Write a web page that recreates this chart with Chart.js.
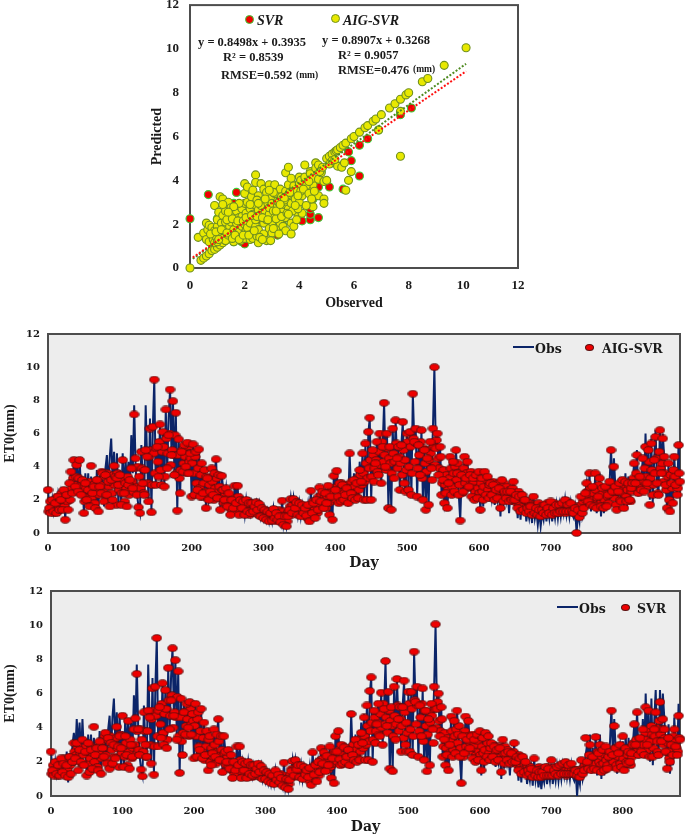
<!DOCTYPE html>
<html>
<head>
<meta charset="utf-8">
<script src="https://cdn.jsdelivr.net/npm/chart.js@4"></script>
<style>
  html, body { margin: 0; padding: 0; background: #fff; }
  body { position: relative; width: 685px; height: 834px; overflow: hidden; filter: blur(0.35px); }
  canvas { position: absolute; }
  .n { position: absolute; white-space: nowrap; line-height: 1; font: bold 12.5px "Liberation Serif", serif; color: #1a1a1a; }
  .lg { font: bold 12.5px "DejaVu Serif", serif; }
  .dot { position: absolute; border-radius: 50%; box-sizing: border-box; }
  .ln { position: absolute; height: 2px; background: #0b2468; }
</style>
</head>
<body>
<canvas id="scatterChart" width="400" height="312" style="left:140px;top:0"></canvas>
<canvas id="aigChart" width="685" height="252" style="left:0;top:320px"></canvas>
<canvas id="svrChart" width="685" height="256" style="left:0;top:580px"></canvas>

<!-- scatter notes -->
<div class="dot" style="left:245px;top:15px;width:9px;height:9px;background:#f00000;border:1px solid #39d039"></div>
<div class="n" style="left:257px;top:13px;font-size:14px;font-style:italic">SVR</div>
<div class="dot" style="left:331px;top:14px;width:9px;height:9px;background:#e8e800;border:1px solid #6f8f20"></div>
<div class="n" style="left:343px;top:13px;font-size:14px;font-style:italic">AIG-SVR</div>
<div class="n" style="left:198px;top:35px">y = 0.8498x + 0.3935</div>
<div class="n" style="left:223px;top:50px">R² = 0.8539</div>
<div class="n" style="left:221px;top:68px">RMSE=0.592</div>
<div class="n" style="left:296px;top:70px;font-size:9.5px">(mm)</div>
<div class="n" style="left:322px;top:33px">y = 0.8907x + 0.3268</div>
<div class="n" style="left:338px;top:48px">R² = 0.9057</div>
<div class="n" style="left:338px;top:63px">RMSE=0.476</div>
<div class="n" style="left:413px;top:64px;font-size:9.5px">(mm)</div>

<!-- time series legends -->
<div class="ln" style="left:513px;top:346px;width:21px"></div>
<div class="n lg" style="left:535px;top:341px">Obs</div>
<div class="dot" style="left:585px;top:344px;width:9px;height:7px;background:#ee0000;border:1px solid #5a1010"></div>
<div class="n lg" style="left:602px;top:341px">AIG-SVR</div>
<div class="ln" style="left:557px;top:606px;width:21px"></div>
<div class="n lg" style="left:579px;top:601px">Obs</div>
<div class="dot" style="left:621px;top:604px;width:9px;height:7px;background:#ee0000;border:1px solid #5a1010"></div>
<div class="n lg" style="left:637px;top:601px">SVR</div>

<script>
//************************************   DATA    ******************************************
// observed series, one value read every second day (day 0 to day 880)
const obsValues = [
  2.6,1.4,1.2,2.0,1.3,1.9,1.1,2.2,1.5,2.3,1.4,2.6,0.8,2.5,1.4,3.0,3.7,2.4,4.5,2.8,4.3,2.2,4.5,2.5,3.2,
  1.2,3.6,2.0,3.6,1.6,3.4,2.4,2.9,1.3,3.8,1.3,3.6,2.4,3.3,1.6,3.9,4.7,2.6,4.6,5.7,3.2,4.9,2.2,4.8,1.7,
  3.8,1.7,4.8,2.4,4.4,3.0,4.3,2.7,5.9,3.6,7.7,4.0,2.3,1.6,1.2,5.3,3.0,2.2,7.7,4.5,1.9,6.9,1.25,6.4,9.25,
  2.9,5.5,3.4,6.6,2.9,6.2,2.8,7.5,3.9,7.0,8.65,4.7,8.0,3.5,7.3,1.35,5.7,2.4,5.4,3.7,5.3,4.0,5.5,3.6,5.4,
  2.2,5.3,2.3,4.9,2.6,5.1,2.2,4.2,2.4,3.8,1.5,3.3,2.0,2.5,3.9,2.3,3.6,4.5,2.1,3.5,1.4,3.5,2.6,2.0,2.7,
  1.6,2.4,1.1,2.0,1.5,2.9,1.8,2.9,1.1,2.0,1.5,1.9,1.1,2.0,1.3,1.8,1.2,1.8,1.3,1.6,1.9,1.4,1.8,1.0,1.5,
  0.9,1.4,0.8,1.3,0.7,1.2,0.7,1.5,0.9,1.2,0.8,1.0,0.6,2.0,0.5,1.0,0.4,1.0,1.4,2.1,1.2,2.1,1.5,1.9,1.1,
  1.8,1.0,1.7,1.2,1.5,1.0,1.7,0.7,2.6,1.2,1.8,0.9,2.0,1.4,2.8,1.9,2.5,1.5,2.4,1.8,2.9,1.1,2.2,0.8,3.5,
  2.6,3.8,2.2,3.0,1.9,2.9,2.0,2.3,2.7,1.6,4.8,2.4,2.1,3.6,1.9,3.8,2.1,4.3,3.1,4.8,2.0,5.4,2.0,6.0,6.95,
  2.0,5.0,3.1,4.2,5.5,3.5,6.0,3.0,5.2,7.85,4.0,6.0,1.5,5.2,1.4,6.3,3.3,6.8,4.5,5.2,2.6,5.3,6.7,3.0,2.5,
  6.0,2.6,6.1,2.3,8.4,5.5,6.3,2.2,5.3,3.5,6.2,2.0,5.0,1.4,4.5,1.7,5.5,3.9,6.3,10.0,5.1,6.0,3.5,5.2,2.3,
  3.2,1.8,2.4,1.5,3.0,4.6,2.3,4.3,2.5,5.0,3.6,2.3,0.75,3.5,2.5,4.6,3.3,4.4,2.8,3.5,2.2,3.3,1.9,3.5,2.1,
  3.7,1.2,3.3,1.6,3.7,2.3,3.4,1.9,3.0,2.1,2.9,1.7,2.6,2.0,2.7,1.0,3.2,1.6,2.5,1.9,2.5,1.2,2.5,1.7,3.1,
  1.5,2.3,0.9,2.2,0.8,2.3,1.1,2.0,0.7,1.4,0.9,1.6,0.6,2.2,0.9,1.4,0.5,1.3,0.4,1.2,0.8,1.7,0.7,1.5,0.9,
  1.9,0.7,1.5,0.9,1.7,0.9,1.7,1.0,1.8,1.2,2.0,1.1,1.7,1.0,1.8,1.1,0.9,1.5,0.0,1.2,0.7,2.2,1.0,1.4,2.4,
  3.0,1.7,3.6,1.3,2.8,1.5,3.6,1.2,2.2,3.6,1.0,2.7,1.2,2.8,1.4,2.3,3.1,5.1,2.5,4.5,2.8,1.3,2.5,3.0,1.8,
  3.2,1.5,3.6,1.4,3.4,2.0,2.7,3.0,4.2,3.0,5.0,2.2,3.4,2.6,4.5,2.5,6.0,3.0,5.0,2.0,5.7,1.8,4.4,6.2,3.0,
  2.2,6.2,3.6,6.0,4.6,2.9,1.5,4.2,1.3,3.0,1.8,4.6,2.9,2.3,5.4,3.1
];
// predictions on even days
const aigEven = [
  2.6,1.5,1.2,2.0,1.3,1.8,1.2,2.2,1.4,2.0,1.4,2.6,0.8,2.3,1.4,3.0,3.7,2.4,4.4,2.8,4.1,2.5,4.4,2.3,3.2,
  1.2,3.0,2.0,2.6,1.6,4.05,2.4,2.8,1.5,3.2,1.3,2.8,2.4,3.6,1.9,3.5,2.3,3.1,1.6,3.2,2.0,4.05,3.4,3.3,2.9,
  3.5,1.7,4.4,2.4,3.0,1.6,2.9,3.2,3.9,2.7,7.15,4.5,2.3,1.55,1.2,4.9,3.0,2.3,5.0,4.6,1.9,6.3,1.25,6.4,9.25,
  2.9,5.2,3.4,6.55,2.9,6.1,2.8,7.45,3.9,5.9,8.65,4.7,7.95,3.5,7.25,1.35,5.65,2.4,4.9,3.7,5.3,4.0,5.45,3.6,4.8,
  2.2,5.35,2.3,4.9,2.6,5.05,2.2,4.2,2.4,3.8,1.5,3.3,2.0,2.5,3.9,2.3,3.6,4.45,2.1,3.5,1.4,3.45,2.6,2.0,2.7,
  1.6,2.4,1.1,2.0,1.5,2.85,1.8,2.85,1.1,2.0,1.5,1.9,1.1,2.0,1.3,1.8,1.2,1.8,1.3,1.6,1.85,1.4,1.75,1.0,1.5,
  0.9,1.4,0.8,1.3,0.7,1.2,0.75,1.45,0.9,1.2,0.8,1.0,0.65,1.95,0.5,1.0,0.4,1.0,1.4,2.05,1.2,2.05,1.5,1.85,1.1,
  1.8,1.0,1.7,1.2,1.5,1.05,1.7,0.7,2.55,1.2,1.8,0.9,2.0,1.4,2.75,1.9,2.5,1.5,2.4,1.8,2.85,1.1,2.2,0.8,3.45,
  2.6,3.75,2.2,3.0,1.9,2.9,2.0,2.3,2.7,1.8,4.8,2.4,2.1,3.2,2.0,3.0,2.1,3.8,3.1,4.8,2.0,5.4,2.0,6.1,6.95,
  2.0,5.0,3.1,4.2,5.5,3.5,6.0,3.0,5.2,7.85,4.0,6.0,1.5,5.2,1.4,6.3,3.3,6.8,4.5,5.2,2.6,5.3,6.7,3.0,2.5,
  6.0,2.6,6.1,2.3,8.4,5.5,6.3,2.2,5.3,3.5,6.2,2.0,5.0,1.4,4.5,1.7,5.5,3.9,6.3,10.0,5.1,6.0,3.5,5.2,2.3,
  3.2,1.8,2.4,1.5,3.0,4.6,2.3,4.3,2.5,5.0,3.6,2.3,0.75,3.5,2.5,4.6,3.3,4.3,2.8,3.5,2.2,3.3,2.0,3.5,2.1,
  3.7,1.4,3.3,2.0,3.7,2.3,3.4,2.1,3.0,2.3,2.9,2.0,2.6,2.1,2.7,1.5,3.2,1.9,2.5,2.1,2.5,1.9,2.5,2.0,3.1,
  2.0,2.3,1.5,2.2,1.3,2.3,1.4,2.0,1.2,1.5,1.3,1.6,1.1,2.2,1.2,1.5,1.1,1.4,1.0,1.4,1.2,1.7,1.1,1.5,1.2,
  1.9,1.1,1.5,1.2,1.7,1.2,1.7,1.3,1.8,1.3,2.0,1.3,1.7,1.3,1.8,1.3,1.2,1.5,0.0,1.4,0.95,2.2,1.2,1.5,2.4,
  3.0,1.9,3.6,1.7,2.8,1.6,3.6,1.5,2.2,3.3,1.6,2.7,1.5,2.8,1.6,2.3,3.1,5.0,2.5,4.0,2.8,1.4,2.5,3.0,1.9,
  3.2,1.5,3.1,1.9,3.0,2.0,2.7,3.0,4.2,3.0,4.7,2.4,3.4,2.6,4.5,2.5,5.2,3.0,5.0,1.7,5.4,2.3,4.4,5.8,3.0,
  2.3,6.2,3.6,5.7,4.6,2.9,1.5,4.2,1.3,3.0,1.8,4.6,2.9,2.3,5.3,3.1
];
const svrEven = [
  2.6,1.5,1.2,2.0,1.3,1.8,1.2,2.2,1.4,1.9,1.2,1.8,1.1,2.3,1.3,2.0,3.1,2.2,3.1,1.5,2.7,2.0,3.3,1.8,2.6,
  1.2,3.1,1.4,2.7,1.6,4.05,2.4,2.8,1.5,3.2,1.3,2.8,2.3,3.7,1.9,3.4,1.6,3.1,1.9,3.0,2.2,4.05,2.9,3.5,2.8,
  4.7,1.7,3.5,2.4,4.4,1.6,3.0,2.3,3.9,4.55,7.15,3.9,2.4,1.55,1.15,4.9,3.0,2.3,5.0,4.6,1.9,6.3,1.25,6.4,9.25,
  2.9,5.2,3.4,6.6,3.0,6.2,2.8,7.5,3.9,5.6,8.65,4.7,7.95,3.3,7.3,1.35,5.7,2.4,4.9,3.6,5.4,4.0,5.5,3.6,4.8,
  2.2,5.4,2.3,4.9,2.7,5.1,2.2,4.3,2.4,3.8,1.5,3.5,1.8,2.5,3.9,2.3,3.6,4.5,2.1,3.5,1.4,3.5,2.6,2.0,2.7,
  1.6,2.4,1.05,2.0,1.5,2.9,1.8,2.9,1.05,2.0,1.5,1.9,1.05,2.0,1.3,1.8,1.2,1.8,1.3,1.6,1.9,1.4,1.75,1.0,1.5,
  1.0,1.4,0.85,1.3,0.75,1.2,0.7,1.5,0.95,1.25,0.8,1.05,0.6,1.95,0.5,1.0,0.4,0.95,1.45,2.05,1.2,2.1,1.55,1.8,1.1,
  1.8,1.0,1.7,1.25,1.5,1.1,1.65,0.65,2.55,1.25,1.8,0.85,2.0,1.4,2.8,1.9,2.55,1.45,2.35,1.8,2.9,1.05,2.2,0.75,3.5,
  2.6,3.8,2.15,3.0,1.9,2.85,2.0,2.3,2.7,1.8,4.8,2.4,2.1,3.3,2.0,3.0,2.1,3.7,3.1,4.6,2.1,5.3,2.1,6.15,6.95,
  2.0,5.0,3.1,4.2,5.4,3.5,6.05,3.0,5.1,7.9,4.1,6.1,1.6,5.2,1.45,6.4,3.3,6.85,4.5,5.2,2.6,5.2,6.75,3.0,2.6,
  6.1,2.6,6.1,2.4,8.45,5.5,6.4,2.3,5.3,3.5,6.3,2.1,5.0,1.45,4.5,1.8,5.4,3.9,6.4,10.05,5.1,6.0,3.5,5.2,2.3,
  3.3,1.8,2.4,1.5,3.0,4.65,2.3,4.4,2.5,5.0,3.6,2.3,0.75,3.5,2.5,4.65,3.3,4.4,2.8,3.5,2.2,3.3,2.0,3.6,2.1,
  3.8,1.5,3.4,2.0,3.7,2.3,3.5,2.1,3.1,2.3,2.9,2.0,2.7,2.1,2.8,1.4,3.3,1.9,2.5,2.1,2.6,1.9,2.5,2.0,3.1,
  2.0,2.3,1.5,2.2,1.3,2.3,1.4,2.0,1.2,1.5,1.3,1.6,1.1,2.2,1.2,1.5,1.1,1.4,1.1,1.4,1.2,1.7,1.2,1.6,1.2,
  2.1,1.2,1.5,1.3,1.7,1.2,1.8,1.3,1.9,1.3,2.0,1.3,1.8,1.3,1.9,1.3,1.3,1.5,1.2,1.4,1.1,2.1,1.3,1.5,3.4,
  2.0,1.6,3.0,1.5,2.3,1.6,3.45,1.5,2.5,3.0,1.4,2.7,1.5,2.9,1.6,2.3,2.6,5.0,2.4,4.1,2.8,1.6,2.5,3.0,1.7,
  3.5,1.5,2.8,1.9,2.6,2.0,2.5,3.0,4.2,3.0,4.9,2.4,3.4,2.6,3.9,2.4,5.2,3.0,5.0,2.3,4.1,2.3,3.9,4.9,3.2,
  2.4,5.5,3.2,4.5,3.9,2.6,1.6,3.4,2.0,3.0,2.4,3.9,2.9,2.4,4.7,3.3
];
// predictions on odd days
const aigOdd = [
  1.3,1.9,1.4,1.6,1.2,1.9,2.2,1.5,1.8,2.4,1.9,1.6,2.2,1.9,2.5,2.0,2.7,3.3,2.9,3.4,2.6,3.3,2.5,2.9,3.1,
  1.9,2.7,2.2,3.1,2.5,2.1,2.9,1.8,2.6,3.2,2.3,2.9,3.7,2.5,3.4,2.0,3.6,2.8,3.3,2.4,3.5,2.9,1.7,3.6,2.6,
  3.0,2.4,3.2,1.9,2.7,3.4,2.3,2.9,3.1,2.5,3.9,2.8,4.0,3.4,2.7,3.9,2.4,3.8,4.9,3.0,4.6,5.0,2.9,4.8,3.6,
  5.1,4.3,5.5,3.8,4.9,5.2,3.4,5.7,4.8,6.0,4.1,5.0,4.7,5.9,3.6,4.7,3.3,3.8,5.0,4.2,4.6,3.6,5.2,4.3,4.5,
  4.2,3.6,4.6,3.0,3.9,2.7,3.5,2.2,3.0,2.5,3.4,2.1,2.9,2.4,3.1,2.0,2.7,3.3,2.5,2.8,2.1,2.6,1.8,2.4,1.7,
  2.1,1.5,1.9,1.3,2.1,1.6,1.7,2.2,1.4,1.8,1.2,1.7,1.5,1.3,1.9,1.1,1.7,1.4,1.2,1.5,1.8,1.1,1.6,1.3,1.4,
  1.1,1.3,0.9,1.2,1.0,0.8,1.3,0.9,1.1,0.7,1.4,0.9,1.0,1.3,0.8,1.1,0.7,1.3,1.6,1.1,1.7,1.3,1.9,1.4,1.6,
  1.3,1.5,1.1,1.6,1.3,0.9,1.6,1.2,1.5,1.9,1.4,1.7,1.2,2.2,1.6,2.3,1.8,2.1,1.5,2.2,1.8,2.5,1.9,2.7,2.1,
  2.0,2.8,1.8,2.5,3.0,2.1,2.4,1.9,2.9,2.2,2.6,3.1,2.4,2.8,2.2,3.3,2.6,3.5,2.9,3.6,3.1,4.2,3.3,3.9,4.4,
  3.4,4.7,3.9,4.4,3.7,4.9,4.1,5.5,4.3,4.7,3.8,5.1,4.5,4.2,3.6,4.8,4.3,5.4,3.9,4.6,4.2,3.5,5.0,4.4,3.8,
  5.5,4.0,5.2,3.6,5.7,4.3,5.4,3.9,4.7,5.5,3.3,5.1,4.2,3.7,5.0,4.4,4.8,3.2,5.2,4.1,5.6,4.5,3.9,4.6,3.0,
  3.8,2.9,3.5,2.6,3.3,3.9,2.8,3.6,4.0,3.2,4.2,2.9,3.7,2.4,3.9,3.0,3.6,2.7,3.2,3.7,2.9,3.1,2.5,3.3,2.7,
  2.4,3.0,2.5,2.8,2.2,3.2,2.6,2.9,2.3,3.1,2.4,2.7,2.2,3.0,2.4,2.1,2.6,3.0,2.3,2.8,2.2,2.6,2.0,2.7,2.1,
  2.4,1.8,2.5,1.7,2.3,1.6,2.0,1.5,1.9,1.3,1.8,1.4,1.7,1.2,1.6,1.4,1.8,1.2,1.6,1.3,1.5,1.2,1.8,1.4,1.3,
  1.5,1.2,1.8,1.4,1.3,1.6,1.2,1.5,1.4,1.7,1.2,1.9,1.5,1.4,1.7,1.2,1.5,1.3,1.6,1.1,1.4,1.7,1.9,2.2,2.0,
  2.5,2.2,2.7,2.0,2.4,1.8,2.6,2.1,2.9,2.3,1.9,2.4,2.0,2.6,2.2,1.8,2.7,2.3,2.9,2.1,1.7,2.5,2.8,2.0,2.6,
  2.4,2.9,2.2,2.6,2.9,1.9,2.5,3.3,2.7,3.6,2.9,3.0,3.4,2.8,3.1,3.9,3.4,2.8,4.3,3.3,3.8,2.9,3.6,4.5,2.4,
  4.9,3.9,4.2,3.1,3.6,2.6,3.4,2.0,3.5,2.7,3.8,3.4,2.9,2.7,3.6
];
const svrOdd = [
  1.3,1.8,1.4,1.5,1.2,1.8,2.0,1.4,1.7,2.2,1.8,1.6,2.1,1.8,2.3,2.0,2.6,2.4,2.9,2.1,2.5,1.9,2.4,2.7,2.9,
  1.9,2.6,2.2,2.9,2.5,2.0,2.8,1.7,2.5,3.1,2.2,2.8,3.5,2.4,3.3,2.0,3.5,2.7,3.2,2.3,3.4,2.8,1.7,3.6,2.5,
  2.9,2.3,3.1,1.8,2.6,3.3,2.2,2.8,3.0,2.4,3.8,2.7,3.9,3.3,2.6,3.8,2.3,3.8,4.9,3.0,4.5,5.0,2.9,4.7,3.5,
  5.0,4.2,5.4,3.7,4.8,5.1,3.3,5.6,4.7,5.9,4.0,4.9,4.6,5.8,3.5,4.6,3.2,3.7,4.9,4.1,4.5,3.5,5.1,4.2,4.4,
  4.1,3.5,4.5,2.9,3.8,2.6,3.4,2.1,2.9,2.4,3.3,2.0,2.8,2.3,3.0,1.9,2.6,3.2,2.4,2.7,2.0,2.5,1.8,2.3,1.7,
  2.0,1.5,1.8,1.3,2.0,1.6,1.7,2.1,1.4,1.7,1.2,1.6,1.5,1.3,1.8,1.1,1.7,1.3,1.2,1.5,1.7,1.1,1.5,1.3,1.4,
  1.1,1.2,0.9,1.2,1.0,0.8,1.2,0.9,1.1,0.75,1.3,0.9,1.0,1.2,0.8,1.05,0.7,1.25,1.6,1.1,1.6,1.3,1.8,1.4,1.5,
  1.3,1.5,1.1,1.5,1.3,0.9,1.5,1.2,1.5,1.8,1.4,1.7,1.2,2.1,1.6,2.2,1.8,2.0,1.5,2.2,1.7,2.4,1.9,2.6,2.1,
  2.0,2.7,1.8,2.4,2.9,2.1,2.3,1.9,2.8,2.2,2.5,3.0,2.4,2.7,2.2,3.2,2.6,3.4,2.8,3.5,3.0,4.1,3.2,3.8,4.3,
  3.3,4.6,3.8,4.3,3.6,4.8,4.0,5.4,4.2,4.6,3.7,5.0,4.4,4.1,3.5,4.7,4.2,5.3,3.8,4.5,4.1,3.4,4.9,4.3,3.7,
  5.4,3.9,5.1,3.5,5.6,4.2,5.3,3.8,4.6,5.4,3.2,5.0,4.1,3.6,4.9,4.3,4.7,3.1,5.1,4.0,5.5,4.4,3.8,4.5,2.9,
  3.7,2.8,3.4,2.5,3.2,3.8,2.7,3.5,3.9,3.1,4.1,2.8,3.6,2.3,3.8,2.9,3.5,2.6,3.1,3.6,2.8,3.0,2.4,3.2,2.6,
  2.4,2.9,2.5,2.7,2.2,3.1,2.5,2.8,2.3,3.0,2.4,2.6,2.2,2.9,2.3,2.1,2.5,2.9,2.2,2.7,2.2,2.5,2.0,2.6,2.1,
  2.3,1.8,2.4,1.7,2.2,1.6,1.9,1.5,1.8,1.4,1.7,1.4,1.6,1.3,1.6,1.4,1.7,1.2,1.6,1.3,1.5,1.3,1.7,1.4,1.3,
  1.5,1.3,1.7,1.4,1.3,1.6,1.3,1.5,1.4,1.7,1.2,1.8,1.5,1.4,1.6,1.3,1.5,1.3,1.5,1.2,1.4,1.6,1.5,1.8,1.6,
  1.9,2.4,1.7,2.1,1.8,2.3,1.9,2.6,2.0,1.8,2.3,1.9,2.4,2.1,1.8,2.5,2.2,1.7,2.0,2.8,1.8,2.3,2.6,1.9,2.5,
  2.2,2.7,2.0,2.4,2.8,1.8,2.3,3.1,2.6,3.3,2.7,2.9,3.3,2.7,3.0,3.7,3.3,2.7,3.9,3.2,3.6,2.8,3.5,4.0,2.6,
  4.4,3.6,3.9,3.0,3.4,2.6,3.1,2.2,3.3,2.7,3.5,3.2,2.8,2.6,3.4
];

// observed / predicted pairs of the scatter panel
const aigObserved = [
  0,.4,.5,.6,.7,.8,.9,1,1.1,1.2,1.3,1.4,1.5,1.7,1.9,2.1,2.3,2.6,2.9,3.2,3.5,3.8,4.1,4.4,
  .3,.5,.6,.6,.65,.7,.7,.8,.8,.85,.9,.9,.9,.95,1,1,1,1.05,1.1,1.1,1.15,1.2,1.2,1.2,1.25,1.3,1.3,1.3,1.4,1.4,1.45,1.45,1.5,1.5,1.5,
  1.6,1.6,1.6,1.7,1.7,1.7,1.75,1.8,1.8,1.85,1.9,1.9,1.9,2,2,2,2,2,2.05,2.05,2.1,2.1,2.1,2.1,2.2,2.2,2.2,2.25,2.3,2.3,2.3,2.3,2.35,
  2.4,2.4,2.4,2.4,2.45,2.5,2.5,2.5,2.5,2.55,2.6,2.6,2.6,2.7,2.7,2.7,2.75,2.8,2.8,2.8,2.85,2.9,2.9,2.9,2.9,
  3,3,3,3,3.05,3.1,3.1,3.1,3.15,3.2,3.2,3.25,3.3,3.3,3.35,3.4,3.4,3.45,3.5,3.5,3.5,3.5,3.55,3.6,3.6,3.6,3.65,3.7,3.7,3.7,3.7,3.75,3.8,3.8,3.85,3.9,3.9,
  4,4,4,4.05,4.1,4.1,4.2,4.2,4.3,4.4,4.5,4.5,4.5,4.6,4.6,4.7,4.7,4.7,4.8,4.9,4.9,4.9,5,5,5.1,5.2,5.3,5.35,5.4,5.5,5.4,5.55,5.6,5.65,5.7,5.7,5.8,5.9,5.9,
  6,6.2,6.4,6.5,6.7,6.8,6.9,7,7.3,7.5,7.7,7.7,7.7,7.9,8,8.5,8.7,9.3,10.1,
  .75,.95,1.05,1.15,1.35,1.55,1.65,1.8,1.95,2.15,2.35,2.55,2.65,2.95,3.05,3.25,
  1.35,1.55,1.75,1.95,2.05,2.25,2.45,2.65,2.85,3.15,3.35,3.55,3.75,3.95,
  2.45,2.75,3.05,3.15,3.45,3.6,3.85,4.05,4.25,4.35,
  3.25,3.45,3.65,3.95,4.15,4.35,4.55,4.75,4.45,4.25,4.85,5.1,5.2,5.3,
  2.2,2.5,2.9,3.3,3.6,3.9,1.8,1.6,1.4,1.2
];
const aigPredicted = [
  0,.35,.45,.55,.65,.8,.85,.95,1.05,1.15,1.25,1.35,1.45,1.65,1.85,2.05,2.3,2.6,2.85,3.2,3.45,3.8,4.1,4.4,
  1.4,1.6,2.05,1.3,1.75,1.2,1.95,1.5,1.85,1.3,1.15,1.7,2.85,1.45,1.2,1.9,2.2,2.55,1.55,3.25,2.05,1.35,2.4,3.15,1.75,2.1,2.6,1.25,3.0,1.5,1.9,2.3,2.75,1.6,2.1,
  1.2,2.45,1.75,2.6,1.4,2.05,2.85,1.65,2.3,1.25,1.9,2.7,2.35,3.85,1.35,2.0,3.4,2.95,1.7,2.5,3.7,1.85,3.0,2.25,1.3,2.7,2.05,3.25,1.6,1.35,2.45,3.55,2.9,
  4.25,3.9,1.9,2.2,1.45,3.3,1.15,2.65,1.75,3.05,3.85,2.4,2.85,1.55,2.05,3.6,2.55,1.25,3.45,2.2,2.95,3.8,1.8,2.45,2.75,
  3.2,1.6,2.1,2.95,2.6,3.8,2.3,3.4,1.8,2.85,3.05,2.45,3.6,2.05,3.25,2.7,1.9,2.9,4.35,3.5,2.3,1.7,3.0,4.6,3.8,2.7,3.2,1.55,2.05,2.95,4.1,3.55,1.9,3.75,3.15,2.55,3.5,
  4.15,3.0,3.85,4.0,2.5,3.3,4.7,4.15,3.6,4.3,3.8,2.8,4.1,4.8,4.55,3.3,4.05,4.7,4.35,3.95,3.15,2.95,4,5,5.1,5.2,5.3,5.35,5.4,5.5,4.65,4.6,5.6,4.8,5.7,3.55,4.0,4.4,5.9,
  6,6.2,6.4,6.5,6.7,6.8,6.3,7,7.3,7.5,7.7,7.15,5.1,7.9,8,8.5,8.65,9.25,10.05,
  1.55,1.65,1.3,1.75,1.6,1.35,1.5,1.3,1.5,1.5,1.7,1.4,1.3,1.25,1.8,1.55,
  2.2,2.25,2.15,2.15,2.3,2.4,2.35,2.3,2.2,2.25,2.35,2.5,2.6,2.7,
  3.1,3.15,3.45,2.6,3.1,3.35,2.85,3.5,3.75,3.95,
  3.0,3.2,3.45,3.3,3.6,3.4,3.5,4.4,3.15,2.85,4.6,4.75,4.9,4.95,
  2.9,2.95,3.55,2.9,2.45,2.2,2.95,2.8,2.55,2.9
];
const svrObserved = [
  0,.67,1,1.6,1.7,1.6,1.9,2,2.9,3,3.2,3.4,4.1,4.1,4.4,4.4,4.4,4.5,4.6,4.7,4.7,5,5.1,5.5,5.6,5.9,6.2,6.2,
  1.2,1.5,1.8,2.2,2.4,2.6,2.8,3.1,3.3,3.6,3.8,4,4.2,4.8,5.2,5.8,6.5,6.9,7.7,8.1
];
const svrPredicted = [
  2.25,3.35,2.25,2.95,3.45,1.2,1.2,1.1,1.7,3.5,1.5,1.95,2.15,3.5,2.2,2.45,2.7,3.15,3.3,2.3,3.7,3.95,3.7,4.65,3.6,4.9,5.6,4.2,
  1.4,1.9,2.5,2.1,2.7,2.2,2.9,2.6,3.0,3.4,3.3,3.7,3.9,4.4,4.8,5.3,5.9,6.3,7.0,7.3
];
const trendX = [0.1, 10.1];
const svrTrend = [0.48, 8.98];
const aigTrend = [0.42, 9.32];

//************************************   HELPERS    ******************************************
const serifBold = 'Liberation Serif';
const wideSerif = 'DejaVu Serif';

// the markers of the time series are wider than tall
function ellipseMarker() {
  const c = document.createElement('canvas');
  c.width = 11;
  c.height = 8;
  const g = c.getContext('2d');
  g.beginPath();
  g.ellipse(5.5, 4, 4.7, 3.3, 0, 0, Math.PI * 2);
  g.fillStyle = '#ee0000';
  g.fill();
  g.lineWidth = 0.9;
  g.strokeStyle = '#5a1010';
  g.stroke();
  return c;
}

const framePlugin = {
  id: 'frame',
  beforeDatasetsDraw(chart, args, opts) {
    const a = chart.chartArea, ctx = chart.ctx;
    ctx.save();
    ctx.fillStyle = opts.fill;
    ctx.fillRect(a.left, a.top, a.width, a.height);
    ctx.lineWidth = 2;
    ctx.strokeStyle = '#4d4d4d';
    ctx.strokeRect(a.left, a.top, a.width, a.height);
    ctx.restore();
  }
};

function axis(cfg) {
  return {
    type: 'linear',
    min: 0,
    max: cfg.max,
    grid: { display: false, drawTicks: false },
    border: { display: false },
    title: { display: true, text: cfg.title, color: '#1a1a1a', padding: cfg.titlePad,
      font: { family: cfg.titleFamily, size: cfg.titleSize, weight: 'bold' } },
    ticks: { stepSize: cfg.step, includeBounds: false, autoSkip: false, maxRotation: 0, padding: cfg.tickPad,
      color: '#1a1a1a', font: { family: cfg.family, size: cfg.size, weight: 'bold' } },
    afterFit(scale) {
      if (cfg.width) scale.width = cfg.width;
      if (cfg.height) scale.height = cfg.height;
      // keep the plot box where the layout padding puts it
      scale.paddingTop = scale.paddingBottom = scale.paddingLeft = scale.paddingRight = 0;
    }
  };
}

function seriesChart(id, even, odd, name, layout) {
  const evenPoints = even.map((v, i) => ({ x: i * 2, y: v }));
  const oddPoints = odd.map((v, i) => ({ x: i * 2 + 1, y: v }));
  return new Chart(document.getElementById(id), {
    type: 'line',
    plugins: [framePlugin],
    data: {
      datasets: [
        { label: name, data: oddPoints.concat(evenPoints), showLine: false, order: 1, clip: false,
          pointStyle: ellipseMarker(), pointRadius: 4 },
        { label: 'Obs', data: obsValues.map((v, i) => ({ x: i * 2, y: v })), order: 2, borderColor: '#0b2468', borderWidth: 2,
          pointRadius: 0, tension: 0 }
      ]
    },
    options: {
      responsive: false,
      animation: false,
      layout: { padding: layout.padding },
      plugins: { legend: { display: false }, tooltip: { enabled: false }, frame: { fill: '#ededed' } },
      scales: {
        x: axis({ max: 880, step: 100, title: 'Day', titleFamily: wideSerif, titleSize: 14, titlePad: { top: 2, bottom: 0 },
          family: wideSerif, size: 10, tickPad: 9, height: layout.bottom }),
        y: axis({ max: 12, step: 2, title: 'ET0(mm)', titleFamily: serifBold, titleSize: 14, titlePad: { top: 2, bottom: 0 },
          family: wideSerif, size: 10, tickPad: 8, width: layout.left })
      }
    }
  });
}

//************************************   CHARTS    ******************************************
new Chart(document.getElementById('scatterChart'), {
  type: 'scatter',
  plugins: [framePlugin],
  data: {
    datasets: [
      { label: 'SVR trend', data: trendX.map((x, i) => ({ x: x, y: svrTrend[i] })), showLine: true, order: 1,
        borderColor: '#ff1010', borderWidth: 2, borderDash: [2, 1.8], pointRadius: 0 },
      { label: 'AIG-SVR trend', data: trendX.map((x, i) => ({ x: x, y: aigTrend[i] })), showLine: true, order: 2,
        borderColor: '#4f8a20', borderWidth: 2, borderDash: [2, 1.8], pointRadius: 0 },
      { label: 'AIG-SVR', data: aigObserved.map((x, i) => ({ x: x, y: aigPredicted[i] })), order: 3, clip: false,
        backgroundColor: '#e8e800', borderColor: '#6f8f20', borderWidth: 1.1, pointRadius: 4 },
      { label: 'SVR', data: svrObserved.map((x, i) => ({ x: x, y: svrPredicted[i] })), order: 4, clip: false,
        backgroundColor: '#f00000', borderColor: '#39d039', borderWidth: 1.1, pointRadius: 4 }
    ]
  },
  options: {
    responsive: false,
    animation: false,
    layout: { padding: { left: 0, right: 22, top: 5, bottom: 0 } },
    plugins: { legend: { display: false }, tooltip: { enabled: false }, frame: { fill: '#ffffff' } },
    scales: {
      x: axis({ max: 12, step: 2, title: 'Observed', titleFamily: serifBold, titleSize: 14, titlePad: { top: 3, bottom: 0 },
        family: serifBold, size: 13, tickPad: 10, height: 44 }),
      y: axis({ max: 12, step: 2, title: 'Predicted', titleFamily: serifBold, titleSize: 14, titlePad: { top: 9, bottom: 0 },
        family: serifBold, size: 13, tickPad: 11, width: 50 })
    }
  }
});

seriesChart('aigChart', aigEven, aigOdd, 'AIG-SVR', { padding: { left: 0, right: 4, top: 14, bottom: 0 }, left: 48, bottom: 39 });
seriesChart('svrChart', svrEven, svrOdd, 'SVR', { padding: { left: 0, right: 4, top: 11, bottom: 0 }, left: 51, bottom: 40 });
</script>
</body>
</html>
